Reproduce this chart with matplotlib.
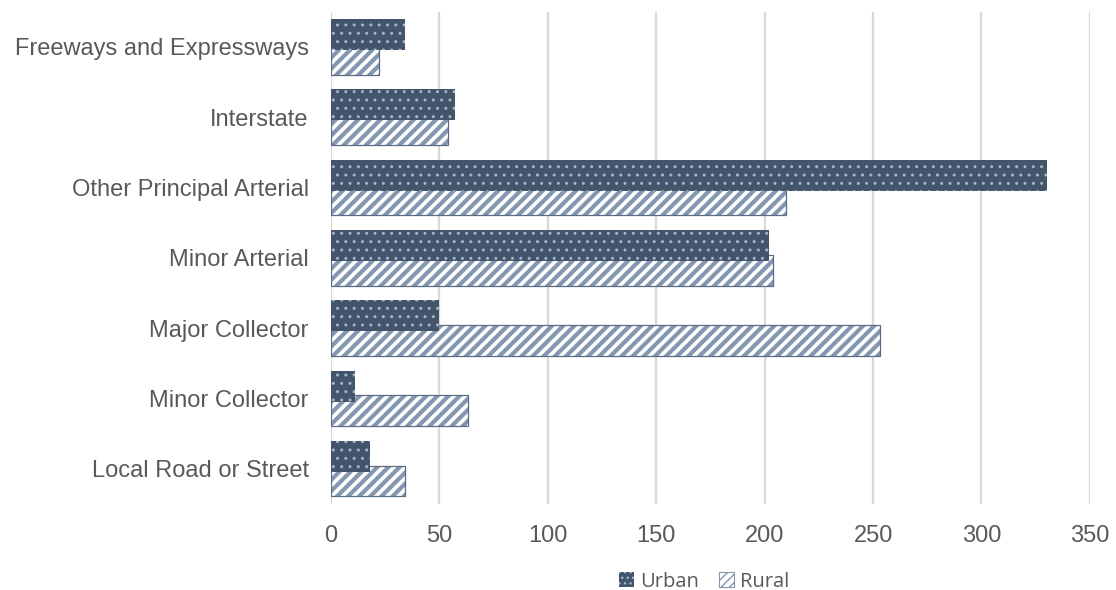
import matplotlib
matplotlib.use("Agg")
import matplotlib.pyplot as plt
from matplotlib.patches import Patch
import numpy as np

categories = ["Freeways and Expressways", "Interstate", "Other Principal Arterial",
              "Minor Arterial", "Major Collector", "Minor Collector", "Local Road or Street"]
urban = [34, 57, 330, 202, 50, 11, 18]
rural = [22, 54, 210, 204, 253, 63, 34]
xticks = [0, 50, 100, 150, 200, 250, 300, 350]

dark = "#44546A"
dots = "#A3B3CB"
stripe = "#8497B0"
text_col = "#595959"

fig = plt.figure(figsize=(11.16, 5.9), dpi=100)
ax = fig.add_axes([0.2966, 0.146, 0.68, 0.834])

y = np.arange(len(categories))
h = 0.44
off = 0.175

# rural first, urban drawn on top
with plt.rc_context({"hatch.linewidth": 3.0}):
    ax.barh(y + off, rural, height=h, color="white", edgecolor=stripe, hatch="///", linewidth=0, zorder=2)
    rural_handle = Patch(facecolor="white", edgecolor=stripe, hatch="////", linewidth=0.8)
ax.barh(y + off, rural, height=h, fill=False, edgecolor="#5A6B86", linewidth=0.9, zorder=3)
with plt.rc_context({"hatch.linewidth": 1.0}):
    ax.barh(y - off, urban, height=h, color=dark, edgecolor=dots, hatch="..", linewidth=0, zorder=4)
    urban_handle = Patch(facecolor=dark, edgecolor=dots, hatch="...", linewidth=0)

ax.set_xlim(0, 350)
ax.set_ylim(len(categories) - 0.5, -0.5)
ax.set_xticks(xticks)
ax.set_yticks(y)
ax.set_yticklabels(categories)
ax.tick_params(axis="both", length=0, labelsize=17, colors=text_col)
ax.tick_params(axis="y", pad=16)
ax.tick_params(axis="x", pad=15)
for lab in ax.get_xticklabels() + ax.get_yticklabels():
    lab.set_family("Liberation Sans")
ax.grid(axis="x", color="#D9D9D9", linewidth=1.6, zorder=0)
ax.set_axisbelow(True)
for s in ax.spines.values():
    s.set_visible(False)

fig.legend([urban_handle, rural_handle], ["Urban", "Rural"], loc="center",
           bbox_to_anchor=(0.631, 0.014), ncol=2, frameon=False,
           handlelength=0.75, handleheight=0.75, handletextpad=0.3, columnspacing=1.0,
           prop={"family": "Open Sans", "size": 14.5}, labelcolor=text_col)

fig.savefig("out.png", dpi=100)
